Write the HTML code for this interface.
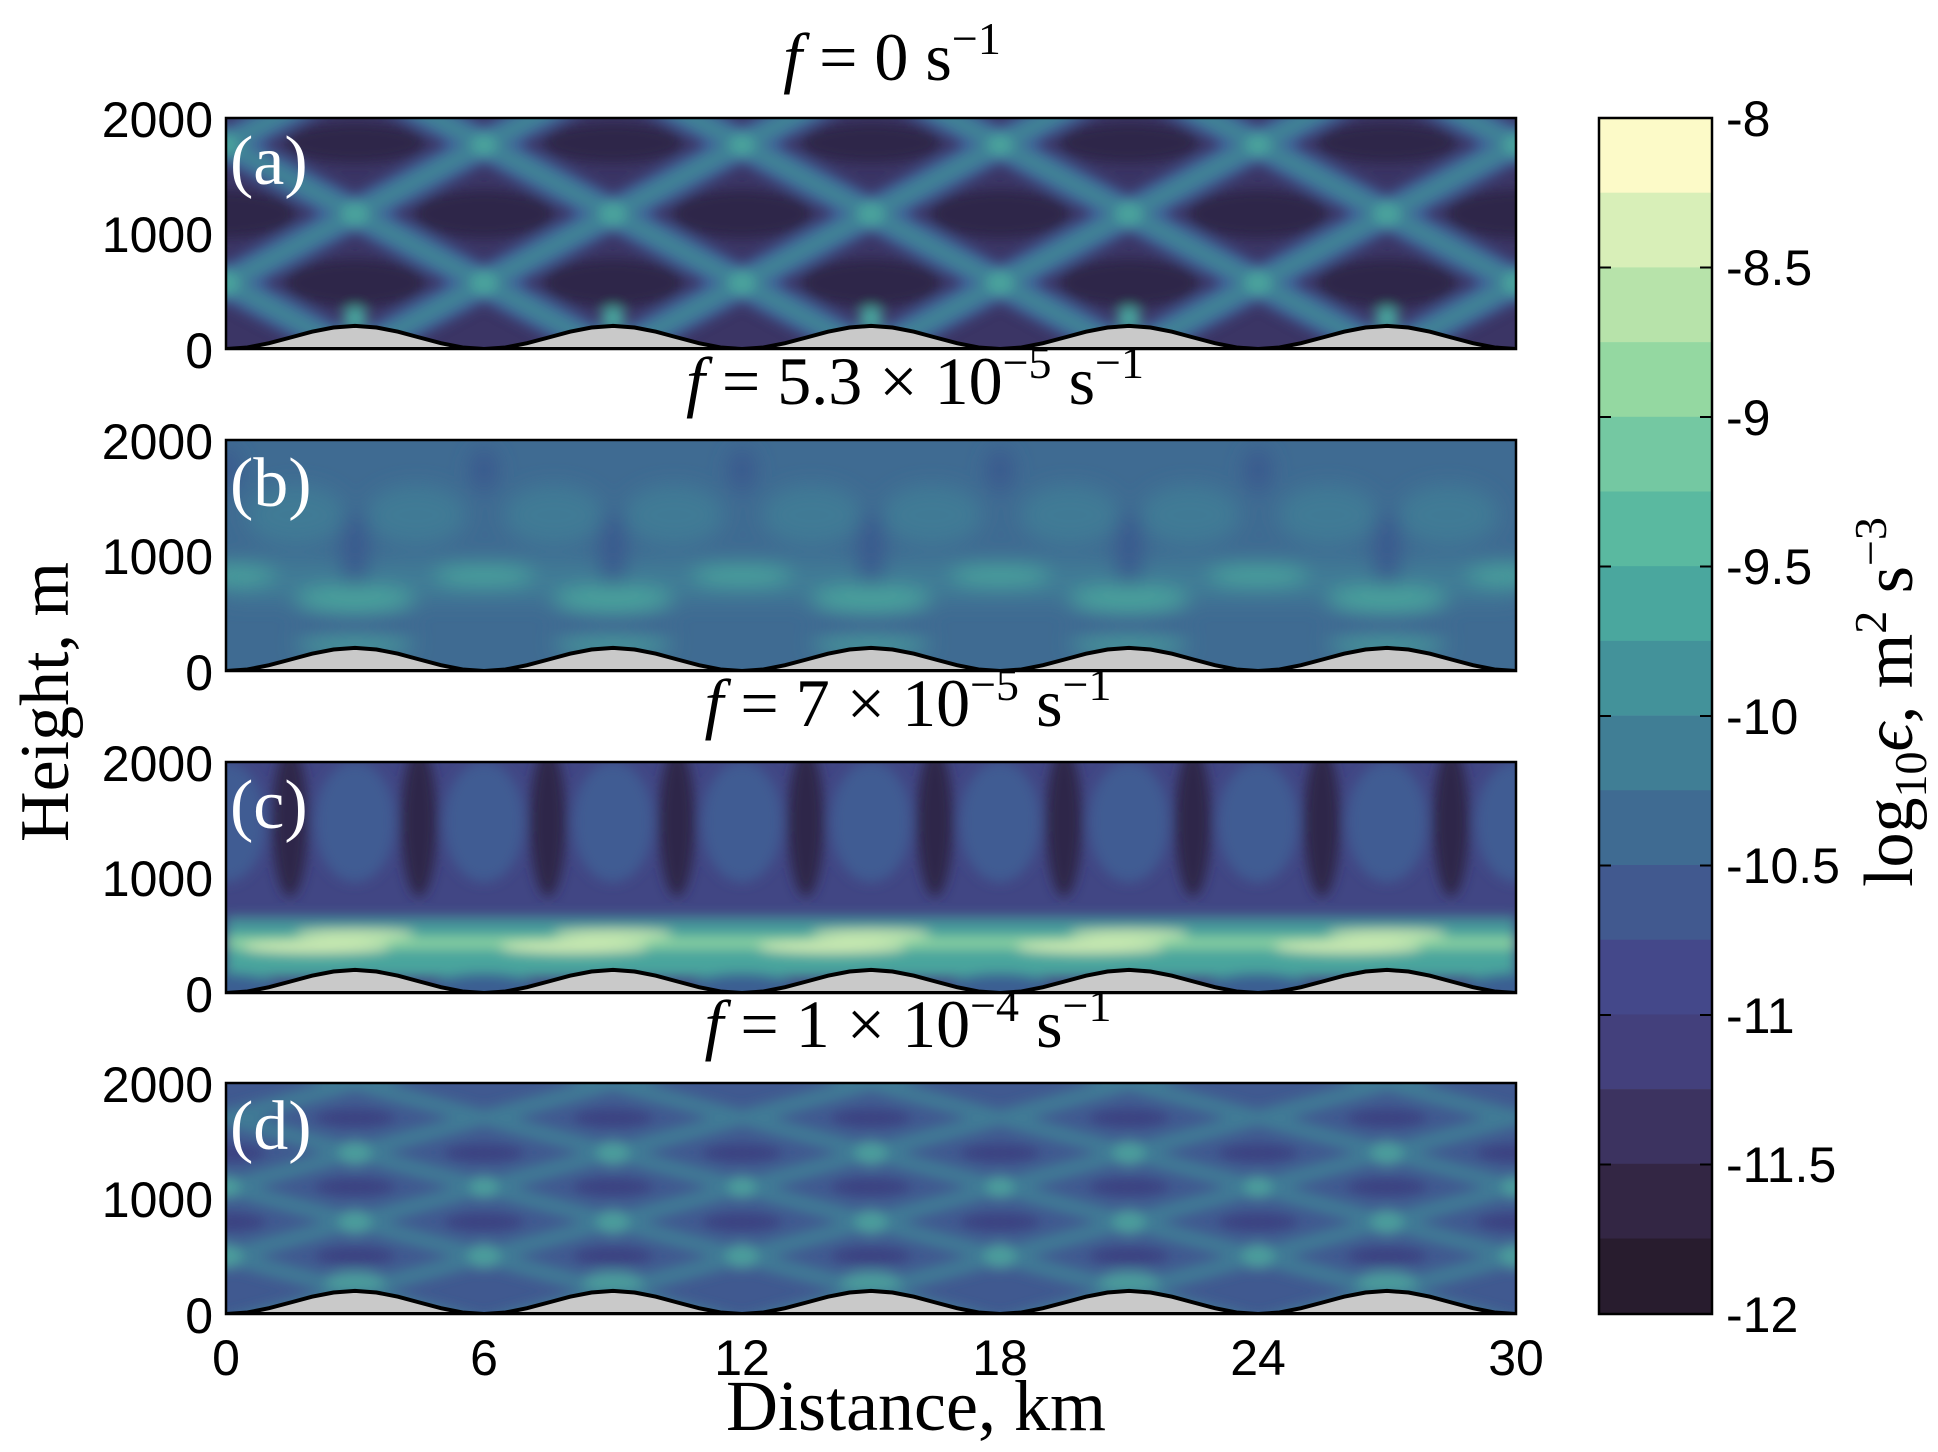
<!DOCTYPE html>
<html><head><meta charset="utf-8"><style>
html,body{margin:0;padding:0;background:#fff;overflow:hidden;width:1938px;height:1452px;}
svg{display:block;}
.tk{font-family:"Liberation Sans",sans-serif;font-size:50px;fill:#000;}
.sf{font-family:"Liberation Serif",serif;fill:#000;}
</style></head><body>
<svg width="1938" height="1452" viewBox="0 0 1938 1452" xmlns="http://www.w3.org/2000/svg">
<defs>
<clipPath id="cp"><rect x="0" y="0" width="1290" height="231"/></clipPath>
<filter id="b6" x="-20%" y="-20%" width="140%" height="140%"><feGaussianBlur stdDeviation="6"/></filter>
<filter id="b10" x="-50%" y="-50%" width="200%" height="200%"><feGaussianBlur stdDeviation="10"/></filter>
<path id="xa" d="M-600 487L600 -157M-600 -157L600 487"/>
<path id="xd" d="M-1200 530L1200 -114M-1200 -114L1200 530"/>
<g id="hill">
<path d="M0 231 L21.5 229.5 L43 225.2 L64.5 219.5 L86 213.7 L107.5 209.5 L129 207.9 L150.5 209.5 L172 213.7 L193.5 219.5 L215 225.2 L236.5 229.5 L258 231 L279.5 229.5 L301 225.2 L322.5 219.5 L344 213.7 L365.5 209.5 L387 207.9 L408.5 209.5 L430 213.7 L451.5 219.5 L473 225.2 L494.5 229.5 L516 231 L537.5 229.5 L559 225.2 L580.5 219.5 L602 213.7 L623.5 209.5 L645 207.9 L666.5 209.5 L688 213.7 L709.5 219.5 L731 225.2 L752.5 229.5 L774 231 L795.5 229.5 L817 225.2 L838.5 219.5 L860 213.7 L881.5 209.5 L903 207.9 L924.5 209.5 L946 213.7 L967.5 219.5 L989 225.2 L1010.5 229.5 L1032 231 L1053.5 229.5 L1075 225.2 L1096.5 219.5 L1118 213.7 L1139.5 209.5 L1161 207.9 L1182.5 209.5 L1204 213.7 L1225.5 219.5 L1247 225.2 L1268.5 229.5 L1290 231 Z" fill="#c9c9c9" stroke="#000" stroke-width="4"/>
</g>
</defs>

<!-- Panel a -->
<g transform="translate(226,118)">
<g clip-path="url(#cp)">
<rect width="1290" height="231" fill="#3b3565"/>
<g filter="url(#b6)">
<g fill="#2d2748">
<ellipse cx="129" cy="165" rx="70" ry="24"/><ellipse cx="387" cy="165" rx="70" ry="24"/><ellipse cx="645" cy="165" rx="70" ry="24"/><ellipse cx="903" cy="165" rx="70" ry="24"/><ellipse cx="1161" cy="165" rx="70" ry="24"/>
<ellipse cx="0" cy="96" rx="70" ry="24"/><ellipse cx="258" cy="96" rx="70" ry="24"/><ellipse cx="516" cy="96" rx="70" ry="24"/><ellipse cx="774" cy="96" rx="70" ry="24"/><ellipse cx="1032" cy="96" rx="70" ry="24"/><ellipse cx="1290" cy="96" rx="70" ry="24"/>
<ellipse cx="129" cy="25" rx="70" ry="20"/><ellipse cx="387" cy="25" rx="70" ry="20"/><ellipse cx="645" cy="25" rx="70" ry="20"/><ellipse cx="903" cy="25" rx="70" ry="20"/><ellipse cx="1161" cy="25" rx="70" ry="20"/>
</g>
<g stroke="#41609a" stroke-width="34" fill="none">
<use href="#xa" x="-516"/><use href="#xa" x="-258"/><use href="#xa" x="0"/><use href="#xa" x="258"/><use href="#xa" x="516"/><use href="#xa" x="774"/><use href="#xa" x="1032"/><use href="#xa" x="1290"/><use href="#xa" x="1548"/><use href="#xa" x="1806"/>
</g>
<g stroke="#3f8296" stroke-width="18" fill="none">
<use href="#xa" x="-516"/><use href="#xa" x="-258"/><use href="#xa" x="0"/><use href="#xa" x="258"/><use href="#xa" x="516"/><use href="#xa" x="774"/><use href="#xa" x="1032"/><use href="#xa" x="1290"/><use href="#xa" x="1548"/><use href="#xa" x="1806"/>
</g>
<g fill="#4aa39c">
<circle cx="0" cy="165" r="13"/><circle cx="258" cy="165" r="13"/><circle cx="516" cy="165" r="13"/><circle cx="774" cy="165" r="13"/><circle cx="1032" cy="165" r="13"/><circle cx="1290" cy="165" r="13"/>
<circle cx="129" cy="96" r="13"/><circle cx="387" cy="96" r="13"/><circle cx="645" cy="96" r="13"/><circle cx="903" cy="96" r="13"/><circle cx="1161" cy="96" r="13"/>
<circle cx="0" cy="27" r="12"/><circle cx="258" cy="27" r="12"/><circle cx="516" cy="27" r="12"/><circle cx="774" cy="27" r="12"/><circle cx="1032" cy="27" r="12"/><circle cx="1290" cy="27" r="12"/>
<circle cx="129" cy="200" r="12"/><circle cx="387" cy="200" r="12"/><circle cx="645" cy="200" r="12"/><circle cx="903" cy="200" r="12"/><circle cx="1161" cy="200" r="12"/>
</g>
</g>
<use href="#hill"/>
</g>
<rect width="1290" height="231" fill="none" stroke="#000" stroke-width="2.5"/>
<text x="4" y="66" class="sf" font-size="70" style="fill:#fff">(a)</text>
</g>

<!-- Panel b -->
<g transform="translate(226,440)">
<g clip-path="url(#cp)">
<rect width="1290" height="231" fill="#3f6b92"/>
<g filter="url(#b10)">
<g fill="#417a95">
<ellipse cx="70" cy="75" rx="50" ry="30"/><ellipse cx="328" cy="75" rx="50" ry="30"/><ellipse cx="586" cy="75" rx="50" ry="30"/><ellipse cx="844" cy="75" rx="50" ry="30"/><ellipse cx="1102" cy="75" rx="50" ry="30"/>
<ellipse cx="190" cy="75" rx="50" ry="30"/><ellipse cx="448" cy="75" rx="50" ry="30"/><ellipse cx="706" cy="75" rx="50" ry="30"/><ellipse cx="964" cy="75" rx="50" ry="30"/><ellipse cx="1222" cy="75" rx="50" ry="30"/>
<rect x="0" y="120" width="1290" height="40"/>
</g>
<g fill="#3b5a8e">
<ellipse cx="129" cy="110" rx="14" ry="40"/><ellipse cx="387" cy="110" rx="14" ry="40"/><ellipse cx="645" cy="110" rx="14" ry="40"/><ellipse cx="903" cy="110" rx="14" ry="40"/><ellipse cx="1161" cy="110" rx="14" ry="40"/>
<ellipse cx="0" cy="30" rx="14" ry="22"/><ellipse cx="258" cy="30" rx="14" ry="22"/><ellipse cx="516" cy="30" rx="14" ry="22"/><ellipse cx="774" cy="30" rx="14" ry="22"/><ellipse cx="1032" cy="30" rx="14" ry="22"/>
</g>
<g fill="#4aa39c">
<ellipse cx="129" cy="160" rx="60" ry="14"/><ellipse cx="387" cy="160" rx="60" ry="14"/><ellipse cx="645" cy="160" rx="60" ry="14"/><ellipse cx="903" cy="160" rx="60" ry="14"/><ellipse cx="1161" cy="160" rx="60" ry="14"/>
<ellipse cx="0" cy="135" rx="50" ry="10"/><ellipse cx="258" cy="135" rx="50" ry="10"/><ellipse cx="516" cy="135" rx="50" ry="10"/><ellipse cx="774" cy="135" rx="50" ry="10"/><ellipse cx="1032" cy="135" rx="50" ry="10"/><ellipse cx="1290" cy="135" rx="50" ry="10"/>
<ellipse cx="129" cy="205" rx="60" ry="8"/><ellipse cx="387" cy="205" rx="60" ry="8"/><ellipse cx="645" cy="205" rx="60" ry="8"/><ellipse cx="903" cy="205" rx="60" ry="8"/><ellipse cx="1161" cy="205" rx="60" ry="8"/>
</g>
<g fill="#3c5690">
<ellipse cx="129" cy="185" rx="60" ry="8"/><ellipse cx="387" cy="185" rx="60" ry="8"/><ellipse cx="645" cy="185" rx="60" ry="8"/><ellipse cx="903" cy="185" rx="60" ry="8"/><ellipse cx="1161" cy="185" rx="60" ry="8"/>
</g>
</g>
<use href="#hill"/>
</g>
<rect width="1290" height="231" fill="none" stroke="#000" stroke-width="2.5"/>
<text x="4" y="66" class="sf" font-size="70" style="fill:#fff">(b)</text>
</g>

<!-- Panel c -->
<g transform="translate(226,762)">
<g clip-path="url(#cp)">
<rect width="1290" height="231" fill="#414684"/>
<g filter="url(#b6)">
<g fill="#3f5b93">
<ellipse cx="0" cy="60" rx="40" ry="60"/><ellipse cx="129" cy="60" rx="40" ry="60"/><ellipse cx="258" cy="60" rx="40" ry="60"/><ellipse cx="387" cy="60" rx="40" ry="60"/><ellipse cx="516" cy="60" rx="40" ry="60"/><ellipse cx="645" cy="60" rx="40" ry="60"/><ellipse cx="774" cy="60" rx="40" ry="60"/><ellipse cx="903" cy="60" rx="40" ry="60"/><ellipse cx="1032" cy="60" rx="40" ry="60"/><ellipse cx="1161" cy="60" rx="40" ry="60"/><ellipse cx="1290" cy="60" rx="40" ry="60"/>
</g>
<g fill="#2f2749">
<ellipse cx="64" cy="60" rx="18" ry="75"/><ellipse cx="193" cy="60" rx="18" ry="75"/><ellipse cx="322" cy="60" rx="18" ry="75"/><ellipse cx="451" cy="60" rx="18" ry="75"/><ellipse cx="580" cy="60" rx="18" ry="75"/><ellipse cx="709" cy="60" rx="18" ry="75"/><ellipse cx="838" cy="60" rx="18" ry="75"/><ellipse cx="967" cy="60" rx="18" ry="75"/><ellipse cx="1096" cy="60" rx="18" ry="75"/><ellipse cx="1225" cy="60" rx="18" ry="75"/>
</g>
<rect x="0" y="155" width="1290" height="60" fill="#4aa59d"/>
<g fill="#8fd5a0">
<rect x="0" y="176" width="1290" height="10"/>
</g>
<g fill="#d2edb4">
<ellipse cx="90" cy="185" rx="75" ry="6"/><ellipse cx="348" cy="185" rx="75" ry="6"/><ellipse cx="606" cy="185" rx="75" ry="6"/><ellipse cx="864" cy="185" rx="75" ry="6"/><ellipse cx="1122" cy="185" rx="75" ry="6"/>
<ellipse cx="129" cy="172" rx="60" ry="4"/><ellipse cx="387" cy="172" rx="60" ry="4"/><ellipse cx="645" cy="172" rx="60" ry="4"/><ellipse cx="903" cy="172" rx="60" ry="4"/><ellipse cx="1161" cy="172" rx="60" ry="4"/>
</g>
<rect x="0" y="160" width="1290" height="4" fill="#3f6b92"/>
<g fill="#3b5e92">
<ellipse cx="0" cy="225" rx="50" ry="14"/><ellipse cx="258" cy="225" rx="50" ry="14"/><ellipse cx="516" cy="225" rx="50" ry="14"/><ellipse cx="774" cy="225" rx="50" ry="14"/><ellipse cx="1032" cy="225" rx="50" ry="14"/><ellipse cx="1290" cy="225" rx="50" ry="14"/>
</g>
</g>
<use href="#hill"/>
</g>
<rect width="1290" height="231" fill="none" stroke="#000" stroke-width="2.5"/>
<text x="4" y="66" class="sf" font-size="70" style="fill:#fff">(c)</text>
</g>

<!-- Panel d -->
<g transform="translate(226,1083)">
<g clip-path="url(#cp)">
<rect width="1290" height="231" fill="#405990"/>
<g filter="url(#b6)">
<g stroke="#3f7a95" stroke-width="16" fill="none">
<use href="#xd" x="-1161"/><use href="#xd" x="-903"/><use href="#xd" x="-645"/><use href="#xd" x="-387"/><use href="#xd" x="-129"/><use href="#xd" x="129"/><use href="#xd" x="387"/><use href="#xd" x="645"/><use href="#xd" x="903"/><use href="#xd" x="1161"/><use href="#xd" x="1419"/><use href="#xd" x="1677"/><use href="#xd" x="1935"/><use href="#xd" x="2193"/><use href="#xd" x="2451"/>
</g>
<g fill="#4b9c9b">
<ellipse cx="0" cy="173" rx="16" ry="13"/><ellipse cx="258" cy="173" rx="16" ry="13"/><ellipse cx="516" cy="173" rx="16" ry="13"/><ellipse cx="774" cy="173" rx="16" ry="13"/><ellipse cx="1032" cy="173" rx="16" ry="13"/><ellipse cx="1290" cy="173" rx="16" ry="13"/>
<ellipse cx="129" cy="139" rx="16" ry="13"/><ellipse cx="387" cy="139" rx="16" ry="13"/><ellipse cx="645" cy="139" rx="16" ry="13"/><ellipse cx="903" cy="139" rx="16" ry="13"/><ellipse cx="1161" cy="139" rx="16" ry="13"/>
<ellipse cx="0" cy="104" rx="14" ry="12"/><ellipse cx="258" cy="104" rx="14" ry="12"/><ellipse cx="516" cy="104" rx="14" ry="12"/><ellipse cx="774" cy="104" rx="14" ry="12"/><ellipse cx="1032" cy="104" rx="14" ry="12"/><ellipse cx="1290" cy="104" rx="14" ry="12"/>
<ellipse cx="129" cy="70" rx="16" ry="13"/><ellipse cx="387" cy="70" rx="16" ry="13"/><ellipse cx="645" cy="70" rx="16" ry="13"/><ellipse cx="903" cy="70" rx="16" ry="13"/><ellipse cx="1161" cy="70" rx="16" ry="13"/>
<ellipse cx="129" cy="198" rx="30" ry="10"/><ellipse cx="387" cy="198" rx="30" ry="10"/><ellipse cx="645" cy="198" rx="30" ry="10"/><ellipse cx="903" cy="198" rx="30" ry="10"/><ellipse cx="1161" cy="198" rx="30" ry="10"/>
</g>
<g fill="#3b3f80">
<ellipse cx="129" cy="173" rx="40" ry="8"/><ellipse cx="387" cy="173" rx="40" ry="8"/><ellipse cx="645" cy="173" rx="40" ry="8"/><ellipse cx="903" cy="173" rx="40" ry="8"/><ellipse cx="1161" cy="173" rx="40" ry="8"/>
<ellipse cx="0" cy="139" rx="40" ry="8"/><ellipse cx="258" cy="139" rx="40" ry="8"/><ellipse cx="516" cy="139" rx="40" ry="8"/><ellipse cx="774" cy="139" rx="40" ry="8"/><ellipse cx="1032" cy="139" rx="40" ry="8"/><ellipse cx="1290" cy="139" rx="40" ry="8"/>
<ellipse cx="129" cy="104" rx="40" ry="8"/><ellipse cx="387" cy="104" rx="40" ry="8"/><ellipse cx="645" cy="104" rx="40" ry="8"/><ellipse cx="903" cy="104" rx="40" ry="8"/><ellipse cx="1161" cy="104" rx="40" ry="8"/>
<ellipse cx="0" cy="70" rx="40" ry="8"/><ellipse cx="258" cy="70" rx="40" ry="8"/><ellipse cx="516" cy="70" rx="40" ry="8"/><ellipse cx="774" cy="70" rx="40" ry="8"/><ellipse cx="1032" cy="70" rx="40" ry="8"/><ellipse cx="1290" cy="70" rx="40" ry="8"/>
<ellipse cx="129" cy="35" rx="40" ry="8"/><ellipse cx="387" cy="35" rx="40" ry="8"/><ellipse cx="645" cy="35" rx="40" ry="8"/><ellipse cx="903" cy="35" rx="40" ry="8"/><ellipse cx="1161" cy="35" rx="40" ry="8"/>
</g>
</g>
<use href="#hill"/>
</g>
<rect width="1290" height="231" fill="none" stroke="#000" stroke-width="2.5"/>
<text x="4" y="66" class="sf" font-size="70" style="fill:#fff">(d)</text>
</g>

<!-- Y tick labels -->
<g class="tk" text-anchor="end">
<text x="213" y="137">2000</text><text x="213" y="252">1000</text><text x="213" y="368">0</text>
<text x="213" y="459">2000</text><text x="213" y="574">1000</text><text x="213" y="690">0</text>
<text x="213" y="781">2000</text><text x="213" y="896">1000</text><text x="213" y="1012">0</text>
<text x="213" y="1102">2000</text><text x="213" y="1217">1000</text><text x="213" y="1333">0</text>
</g>
<!-- X tick labels -->
<g class="tk" text-anchor="middle">
<text x="226" y="1375">0</text><text x="484" y="1375">6</text><text x="742" y="1375">12</text><text x="1000" y="1375">18</text><text x="1258" y="1375">24</text><text x="1516" y="1375">30</text>
</g>
<text x="916" y="1430" class="sf" font-size="72" text-anchor="middle">Distance, km</text>
<text transform="translate(68,702) rotate(-90)" class="sf" font-size="70" text-anchor="middle">Height, m</text>

<!-- Titles -->
<text x="892" y="80" class="sf" font-size="68" text-anchor="middle"><tspan font-style="italic">f</tspan> = 0  s<tspan font-size="46" dy="-26">−1</tspan></text>
<text x="915" y="404" class="sf" font-size="68" text-anchor="middle"><tspan font-style="italic">f</tspan> = 5.3 × 10<tspan font-size="46" dy="-26">−5</tspan><tspan dy="26"> s</tspan><tspan font-size="46" dy="-26">−1</tspan></text>
<text x="908" y="726" class="sf" font-size="68" text-anchor="middle"><tspan font-style="italic">f</tspan> = 7 × 10<tspan font-size="46" dy="-26">−5</tspan><tspan dy="26"> s</tspan><tspan font-size="46" dy="-26">−1</tspan></text>
<text x="908" y="1047" class="sf" font-size="68" text-anchor="middle"><tspan font-style="italic">f</tspan> = 1 × 10<tspan font-size="46" dy="-26">−4</tspan><tspan dy="26"> s</tspan><tspan font-size="46" dy="-26">−1</tspan></text>

<!-- Colorbar -->
<g transform="translate(1599,118)">
<rect y="0" width="113" height="75" fill="#fcfac8"/>
<rect y="74.7" width="113" height="75" fill="#d8efb8"/>
<rect y="149.4" width="113" height="75" fill="#b7e3aa"/>
<rect y="224.1" width="113" height="75" fill="#94d8a1"/>
<rect y="298.8" width="113" height="75" fill="#74c8a2"/>
<rect y="373.5" width="113" height="75" fill="#5ab9a0"/>
<rect y="448.2" width="113" height="75" fill="#4aa79e"/>
<rect y="522.9" width="113" height="75" fill="#43929a"/>
<rect y="597.6" width="113" height="75" fill="#407e95"/>
<rect y="672.3" width="113" height="75" fill="#3f6b92"/>
<rect y="747" width="113" height="75" fill="#41598f"/>
<rect y="821.7" width="113" height="75" fill="#44488a"/>
<rect y="896.4" width="113" height="75" fill="#43407c"/>
<rect y="971.1" width="113" height="75" fill="#3c3360"/>
<rect y="1045.8" width="113" height="75" fill="#332644"/>
<rect y="1120.5" width="113" height="75.5" fill="#281c2e"/>
<rect width="113" height="1196" fill="none" stroke="#000" stroke-width="2.5"/>
<g stroke="#000" stroke-width="2">
<path d="M0 149.5h12M101 149.5h12M0 299h12M101 299h12M0 448.5h12M101 448.5h12M0 598h12M101 598h12M0 747.5h12M101 747.5h12M0 897h12M101 897h12M0 1046.5h12M101 1046.5h12"/>
</g>
<g class="tk" font-size="51">
<text x="127" y="18">-8</text><text x="127" y="167">-8.5</text><text x="127" y="317">-9</text><text x="127" y="466">-9.5</text><text x="127" y="616">-10</text><text x="127" y="765">-10.5</text><text x="127" y="915">-11</text><text x="127" y="1064">-11.5</text><text x="127" y="1214">-12</text>
</g>
</g>
<text transform="translate(1912,702) rotate(-90)" class="sf" font-size="70" text-anchor="middle">log<tspan font-size="46" dy="14">10</tspan><tspan dy="-14" font-style="italic">ϵ</tspan>,  m<tspan font-size="46" dy="-26">2</tspan><tspan dy="26"> s</tspan><tspan font-size="46" dy="-26">−3</tspan></text>
</svg>
</body></html>
